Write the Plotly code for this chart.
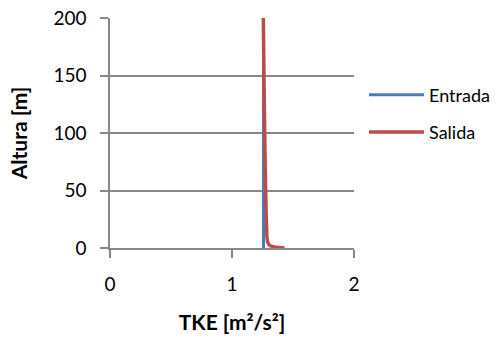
import plotly.graph_objects as go

heights_in = [0, 200]
tke_in = [1.258, 1.258]

heights_out = [200, 150, 100, 50, 30, 20, 10, 7, 5, 3, 2, 1, 0.5, 0]
tke_out = [1.257, 1.262, 1.268, 1.276, 1.28, 1.283, 1.286, 1.289, 1.293, 1.302, 1.315, 1.345, 1.39, 1.43]

FONT = "Lato"
fig = go.Figure()
fig.add_trace(go.Scatter(x=tke_in, y=heights_in, mode="lines", name="Entrada",
                         legendgroup="a",
                         line=dict(color="#4a7ebb", width=3)))
fig.add_trace(go.Scatter(x=tke_out, y=heights_out, mode="lines", name="Salida",
                         legendgroup="b",
                         line=dict(color="#be4b48", width=3.5, shape="spline")))

fig.update_layout(
    width=499, height=340,
    margin=dict(l=110, r=145, t=18, b=92, autoexpand=False),
    paper_bgcolor="white", plot_bgcolor="white",
    font=dict(family=FONT, size=19, color="black"),
    showlegend=True,
    legend=dict(xref="container", x=0.7295, y=0.585, xanchor="left", yanchor="middle",
                font=dict(size=18), itemwidth=55, tracegroupgap=11,
                bgcolor="rgba(0,0,0,0)"),
    xaxis=dict(range=[0, 2], tickvals=[0, 1, 2], showgrid=False, zeroline=False,
               showline=True, linecolor="#888888", linewidth=1.5,
               ticks="outside", ticklen=8, tickcolor="#888888", tickwidth=1.5,
               ticklabelstandoff=10, automargin=False,
               title=dict(text="<b>TKE [m²/s²]</b>", standoff=22,
                          font=dict(size=21)),
               fixedrange=True),
    yaxis=dict(range=[0, 200], tickvals=[0, 50, 100, 150, 200], showgrid=True,
               gridcolor="#888888", gridwidth=1.5, zeroline=False,
               showline=True, linecolor="#888888", linewidth=1.5,
               ticks="outside", ticklen=8, tickcolor="#888888", tickwidth=1.5,
               ticklabelstandoff=10, automargin=False,
               title=dict(text="<b>Altura [m]</b>", standoff=20, font=dict(size=21)),
               fixedrange=True),
)
fig.write_html("out.html")
